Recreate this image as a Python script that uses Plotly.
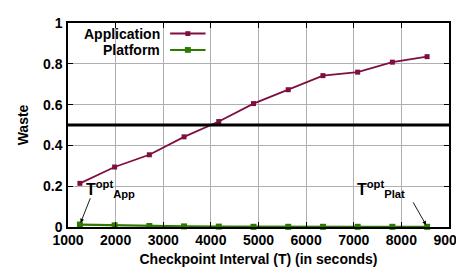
import plotly.graph_objects as go

interval = [1250, 1979, 2708, 3437, 4166, 4895, 5624, 6353, 7082, 7811, 8540]
waste_app = [0.214, 0.294, 0.354, 0.442, 0.517, 0.605, 0.673, 0.742, 0.759, 0.808, 0.835]
waste_plat = [0.012, 0.008, 0.005, 0.003, 0.002, 0.001, 0.001, 0.001, 0.001, 0.001, 0.001]
threshold = 0.5
x_ticks = [1000, 2000, 3000, 4000, 5000, 6000, 7000, 8000, 9000]
y_ticks = [0, 0.2, 0.4, 0.6, 0.8, 1]

APP = "#7e0f40"
PLAT = "#2c7a00"
FONT = "Liberation Sans, Arial, sans-serif"

fig = go.Figure()
fig.add_trace(go.Scatter(x=interval, y=waste_app, mode="lines+markers",
                         line=dict(color=APP, width=1.8),
                         marker=dict(symbol="square", size=5, color=APP),
                         cliponaxis=False, showlegend=False))
fig.add_trace(go.Scatter(x=interval, y=waste_plat, mode="lines+markers",
                         line=dict(color=PLAT, width=2.2),
                         marker=dict(symbol="square", size=6, color=PLAT),
                         cliponaxis=False, showlegend=False))

fig.add_shape(type="line", xref="paper", yref="y", x0=0, x1=1, y0=threshold, y1=threshold,
              line=dict(color="black", width=3))

# custom legend (text to the left of sample)
leg = [("Application", APP, 5, 0.948), ("Platform", PLAT, 6, 0.868)]
for name, col, ms, yp in leg:
    fig.add_annotation(xref="paper", yref="paper", x=0.248, y=yp, text="<b>%s</b>" % name,
                       showarrow=False, xanchor="right", yanchor="middle",
                       font=dict(family=FONT, size=14, color="black", weight="bold"))
    fig.add_shape(type="line", xref="paper", yref="paper", x0=0.268, x1=0.361, y0=yp, y1=yp,
                  line=dict(color=col, width=2))
    cx, cy = 0.3145, yp
    hw = ms / 2 / 385
    hh = ms / 2 / 212
    fig.add_shape(type="rect", xref="paper", yref="paper", x0=cx - hw, x1=cx + hw,
                  y0=cy - hh, y1=cy + hh, fillcolor=col, line=dict(width=0))

# arrows
fig.add_annotation(x=interval[0], y=waste_plat[0], ax=1480, ay=0.148, axref="x", ayref="y",
                   xref="x", yref="y", text="", showarrow=True, arrowhead=2, arrowsize=0.9,
                   arrowwidth=0.9, arrowcolor="black", standoff=2)
fig.add_annotation(x=interval[-1], y=waste_plat[-1], ax=8230, ay=0.128, axref="x", ayref="y",
                   xref="x", yref="y", text="", showarrow=True, arrowhead=2, arrowsize=0.9,
                   arrowwidth=0.9, arrowcolor="black", standoff=2)
fig.add_annotation(xref="paper", yref="paper", x=(76 - 60) / 385, y=(219 - 180) / 212,
                   text="<b>T<sup>opt</sup><sub>App</sub></b>", showarrow=False,
                   xanchor="left", yanchor="middle",
                   font=dict(family=FONT, size=16, color="black", weight="bold"))
fig.add_annotation(xref="paper", yref="paper", x=(350 - 60) / 385, y=(219 - 180) / 212,
                   text="<b>T<sup>opt</sup><sub>Plat</sub></b>", showarrow=False,
                   xanchor="left", yanchor="middle",
                   font=dict(family=FONT, size=16, color="black", weight="bold"))

axis_common = dict(showline=True, linecolor="black", linewidth=1.5, mirror="ticks",
                   ticks="inside", ticklen=5, tickcolor="black", showgrid=True,
                   gridcolor="#b0b0b0", gridwidth=1, zeroline=False,
                   tickfont=dict(family=FONT, size=14, color="black", weight="bold"))

fig.update_xaxes(range=[1000, 9000], tickvals=x_ticks,
                 ticktext=["<b>%d</b>" % v for v in x_ticks],
                 ticklabelstandoff=-1,
                 title=dict(text="<b>Checkpoint Interval (T) (in seconds)</b>", standoff=8,
                            font=dict(family=FONT, size=14, color="black", weight="bold")),
                 **axis_common)
fig.update_yaxes(range=[0, 1], tickvals=y_ticks,
                 ticktext=["<b>%g</b>" % v for v in y_ticks],
                 ticklabelstandoff=1,
                 title=dict(text="<b>Waste</b>", standoff=11,
                            font=dict(family=FONT, size=14, color="black", weight="bold")),
                 **axis_common)

fig.update_layout(width=464, height=275, margin=dict(l=60, r=19, t=7, b=56),
                  plot_bgcolor="white", paper_bgcolor="white", showlegend=False)

fig.write_html("out.html")
